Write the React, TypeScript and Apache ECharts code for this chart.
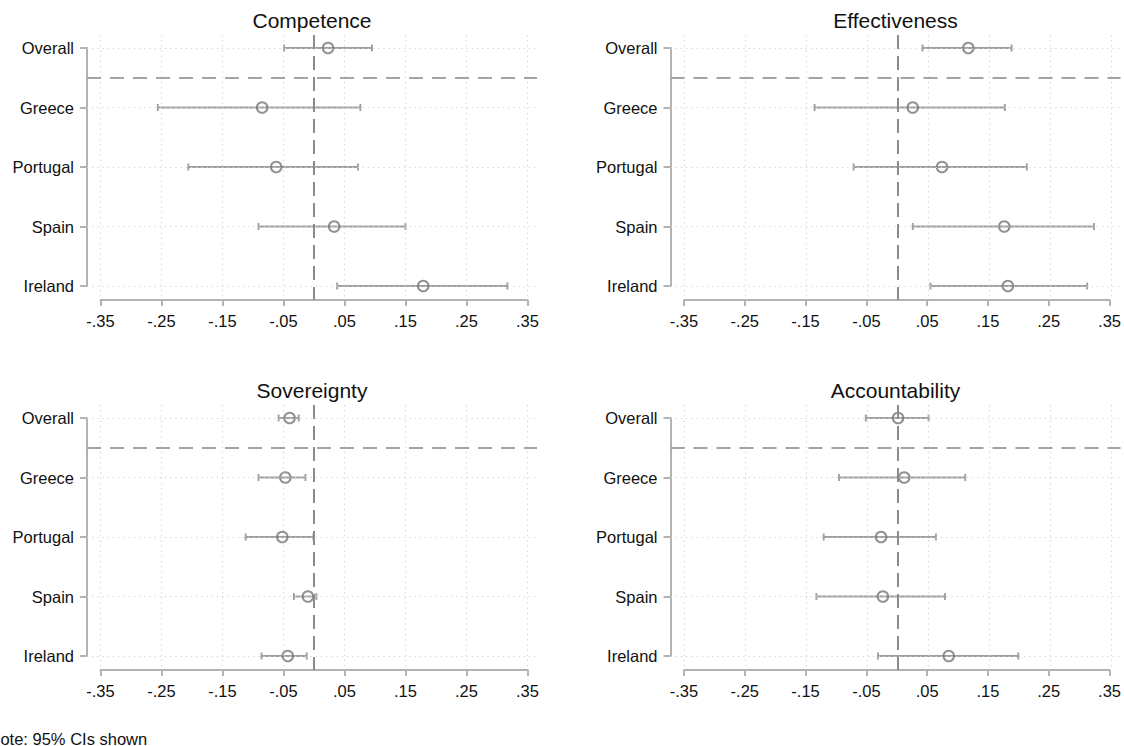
import React, { useEffect, useRef } from 'react';
import * as echarts from 'echarts';

// ---------------- data ----------------
const categories = ['Overall', 'Greece', 'Portugal', 'Spain', 'Ireland'];
const xTicks = [-0.35, -0.25, -0.15, -0.05, 0.05, 0.15, 0.25, 0.35];
const separatorAt = 1.5;

const competenceEst = [0.023, -0.085, -0.062, 0.033, 0.179];
const competenceLo = [-0.049, -0.256, -0.206, -0.091, 0.038];
const competenceHi = [0.095, 0.076, 0.072, 0.150, 0.317];

const effectivenessEst = [0.116, 0.025, 0.073, 0.175, 0.181];
const effectivenessLo = [0.041, -0.136, -0.072, 0.025, 0.054];
const effectivenessHi = [0.187, 0.176, 0.212, 0.322, 0.311];

const sovereigntyEst = [-0.040, -0.047, -0.052, -0.010, -0.043];
const sovereigntyLo = [-0.058, -0.091, -0.112, -0.033, -0.086];
const sovereigntyHi = [-0.025, -0.014, -0.001, 0.004, -0.012];

const accountabilityEst = [0.001, 0.011, -0.027, -0.024, 0.084];
const accountabilityLo = [-0.052, -0.096, -0.121, -0.133, -0.032];
const accountabilityHi = [0.051, 0.111, 0.063, 0.078, 0.198];

const noteText = 'Note: 95% CIs shown';

// ---------------- layout ----------------
const FONT = '"Liberation Sans", Arial, Helvetica, sans-serif';
const PX = 610; // pixels per unit on x
const ROW = 59.5;

const panels = [
  { title: 'Competence', est: competenceEst, lo: competenceLo, hi: competenceHi, zeroX: 314, top: 0 },
  { title: 'Effectiveness', est: effectivenessEst, lo: effectivenessLo, hi: effectivenessHi, zeroX: 897.5, top: 0 },
  { title: 'Sovereignty', est: sovereigntyEst, lo: sovereigntyLo, hi: sovereigntyHi, zeroX: 314, top: 370 },
  { title: 'Accountability', est: accountabilityEst, lo: accountabilityLo, hi: accountabilityHi, zeroX: 897.5, top: 370 },
];

const fmt = (v: number) => {
  const r = Math.round(v * 100) / 100;
  return r.toFixed(2).replace('0.', '.');
};

const AXIS_COLOR = '#b3b3b3';

function buildOption() {
  const grid: any[] = [];
  const xAxis: any[] = [];
  const yAxis: any[] = [];
  const series: any[] = [];
  const graphic: any[] = [];

  const tickMin = xTicks[0];
  const tickMax = xTicks[xTicks.length - 1];
  const tickStep = Math.round((xTicks[1] - xTicks[0]) * 100) / 100;

  panels.forEach((p, i) => {
    const axisLeft = p.zeroX + tickMin * PX;
    const axisRight = p.zeroX + tickMax * PX;
    const plotLeft = axisLeft - 13.5;
    const plotRight = axisRight + 9.5;
    const firstRow = 48 + p.top;
    const lastRow = firstRow + (categories.length - 1) * ROW;
    const plotTop = 35 + p.top;
    const plotBottom = 300 + p.top;

    // grid A: plot region (data + gridlines)
    grid.push({
      left: plotLeft,
      top: plotTop,
      width: plotRight - plotLeft,
      height: plotBottom - plotTop,
      containLabel: false,
    });
    // grid B: axis display region
    grid.push({
      left: axisLeft,
      top: firstRow,
      width: axisRight - axisLeft,
      height: lastRow - firstRow,
      containLabel: false,
    });
    const gA = i * 2;
    const gB = i * 2 + 1;

    xAxis.push({
      type: 'value',
      gridIndex: gA,
      min: (plotLeft - p.zeroX) / PX,
      max: (plotRight - p.zeroX) / PX,
      show: false,
      axisLine: { show: false, onZero: false },
      axisTick: { show: false },
      axisLabel: { show: false },
      splitLine: { show: false },
    });
    yAxis.push({
      type: 'value',
      gridIndex: gA,
      inverse: true,
      min: 1 - (firstRow - plotTop) / ROW,
      max: categories.length + (plotBottom - lastRow) / ROW,
      show: false,
      axisLine: { show: false, onZero: false },
      axisTick: { show: false },
      axisLabel: { show: false },
      splitLine: { show: false },
    });

    xAxis.push({
      type: 'value',
      gridIndex: gB,
      position: 'bottom',
      min: tickMin,
      max: tickMax,
      interval: tickStep,
      offset: plotBottom - lastRow,
      axisLine: { show: true, onZero: false, lineStyle: { color: AXIS_COLOR, width: 2 } },
      axisTick: { show: true, length: 6, lineStyle: { color: AXIS_COLOR, width: 2 } },
      axisLabel: {
        show: true,
        margin: 12,
        color: '#111',
        fontSize: 16.5,
        fontFamily: FONT,
        showMinLabel: true,
        showMaxLabel: true,
        formatter: (v: number) => fmt(v),
      },
      splitLine: { show: false },
    });
    yAxis.push({
      type: 'category',
      gridIndex: gB,
      position: 'left',
      data: categories,
      inverse: true,
      boundaryGap: false,
      offset: axisLeft - plotLeft,
      axisLine: { show: true, onZero: false, lineStyle: { color: AXIS_COLOR, width: 2 } },
      axisTick: { show: true, length: 7, alignWithLabel: true, lineStyle: { color: AXIS_COLOR, width: 2 } },
      axisLabel: { show: true, margin: 13, color: '#111', fontSize: 16.5, fontFamily: FONT },
      splitLine: { show: false },
    });

    const xIdx = gA;
    const yIdx = gA;

    // dotted gridlines
    series.push({
      type: 'scatter',
      xAxisIndex: xIdx,
      yAxisIndex: yIdx,
      data: [],
      z: 1,
      silent: true,
      markLine: {
        silent: true,
        symbol: ['none', 'none'],
        label: { show: false },
        animation: false,
        lineStyle: { color: '#d2d2d2', width: 1.2, type: [1.2, 4] },
        data: [
          ...xTicks.map((t) => ({ xAxis: t })),
          ...categories.map((_, k) => ({ yAxis: k + 1 })),
        ],
      },
    });

    // zero line and separator
    series.push({
      type: 'scatter',
      xAxisIndex: xIdx,
      yAxisIndex: yIdx,
      data: [],
      z: 2,
      silent: true,
      markLine: {
        silent: true,
        symbol: ['none', 'none'],
        label: { show: false },
        animation: false,
        data: [
          { xAxis: 0, lineStyle: { color: '#8c8c8c', width: 2, type: [14, 7] } },
          { yAxis: separatorAt, lineStyle: { color: '#a3a3a3', width: 2, type: [14, 9] } },
        ],
      },
    });

    // confidence intervals
    series.push({
      type: 'custom',
      xAxisIndex: xIdx,
      yAxisIndex: yIdx,
      z: 3,
      silent: true,
      encode: { x: [0, 1], y: 2 },
      data: categories.map((_, k) => [p.lo[k], p.hi[k], k + 1]),
      renderItem: (params: any, api: any) => {
        const a = api.coord([api.value(0), api.value(2)]);
        const b = api.coord([api.value(1), api.value(2)]);
        const cap = 3.5;
        const style = { stroke: '#a0a0a0', lineWidth: 1.9 };
        return {
          type: 'group',
          children: [
            { type: 'line', shape: { x1: a[0], y1: a[1], x2: b[0], y2: b[1] }, style },
            { type: 'line', shape: { x1: a[0], y1: a[1] - cap, x2: a[0], y2: a[1] + cap }, style },
            { type: 'line', shape: { x1: b[0], y1: b[1] - cap, x2: b[0], y2: b[1] + cap }, style },
          ],
        };
      },
    });

    // point estimates
    series.push({
      type: 'scatter',
      xAxisIndex: xIdx,
      yAxisIndex: yIdx,
      z: 4,
      silent: true,
      symbol: 'circle',
      symbolSize: 10.5,
      itemStyle: { color: 'rgba(0,0,0,0)', borderColor: '#777777', borderWidth: 2 },
      data: categories.map((_, k) => [p.est[k], k + 1]),
    });

    graphic.push({
      type: 'text',
      x: (plotLeft + plotRight) / 2,
      y: 20 + p.top,
      style: {
        text: p.title,
        fill: '#111',
        font: `21px ${FONT}`,
        textAlign: 'center',
        textVerticalAlign: 'middle',
      },
    });
  });

  graphic.push({
    type: 'text',
    x: -11.5,
    y: 739,
    style: {
      text: noteText,
      fill: '#111',
      font: `16.5px ${FONT}`,
      textAlign: 'left',
      textVerticalAlign: 'middle',
    },
  });

  return {
    animation: false,
    backgroundColor: '#ffffff',
    grid,
    xAxis,
    yAxis,
    series,
    graphic,
  };
}

export default function App() {
  const ref = useRef<HTMLDivElement | null>(null);
  useEffect(() => {
    if (!ref.current) return;
    const chart = echarts.init(ref.current, undefined, { renderer: 'svg' });
    chart.setOption(buildOption() as any);
    return () => {
      chart.dispose();
    };
  }, []);
  return (
    <div
      ref={ref}
      style={{ position: 'absolute', left: 0, top: 0, width: 1124, height: 746, background: '#fff' }}
    />
  );
}
